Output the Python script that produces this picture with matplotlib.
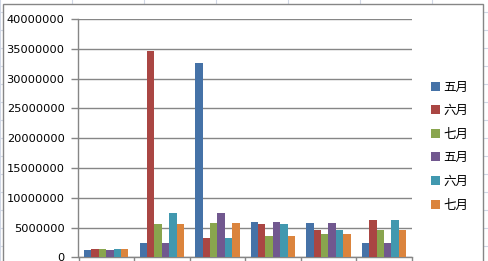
import matplotlib
matplotlib.use("Agg")
import matplotlib.pyplot as plt
import numpy as np
from matplotlib.lines import Line2D
from matplotlib.patches import Rectangle, Patch

plt.rcParams['font.family'] = ['DejaVu Sans']

# values
names = ['五月', '六月', '七月', '五月', '六月', '七月']
s1 = [1230000, 2400000, 32660000, 5940000, 5770000, 2400000]
s2 = [1390000, 34670000, 3250000, 5600000, 4590000, 6270000]
s3 = [1390000, 5600000, 5770000, 3580000, 3920000, 4590000]
s4 = [1230000, 2400000, 7450000, 5940000, 5770000, 2400000]
s5 = [1390000, 7450000, 3250000, 5600000, 4590000, 6270000]
s6 = [1390000, 5600000, 5770000, 3580000, 3920000, 4590000]
series = [s1, s2, s3, s4, s5, s6]
colors = ['#4572A7', '#AA4643', '#89A54E', '#71588F', '#4198AF', '#DB843D']

W, H = 489, 261
fig = plt.figure(figsize=(W / 100, H / 100), dpi=100)

# spreadsheet grid behind the chart
sheet = '#D0D7E5'
for x in np.arange(0, W, 72):
    fig.add_artist(Line2D([x / W, x / W], [0, 1], color=sheet, lw=0.8, zorder=-5))
for y in np.arange(11.5, H, 18):
    fig.add_artist(Line2D([0, 1], [1 - y / H, 1 - y / H], color=sheet, lw=0.8, zorder=-5))

# chart area
fig.add_artist(Rectangle((3 / W, -0.05), 480 / W, 1.05 - 4.3 / H, facecolor='white',
                         edgecolor='#868686', lw=1, zorder=-4))

ax = fig.add_axes([78.5 / W, (H - 257.3) / H, (411.7 - 78.5) / W, (257.3 - 19) / H])
ax.set_facecolor('none')
n = len(series)
x = np.arange(len(s1))
w = 1 / 7.5
for i, s in enumerate(series):
    ax.bar(x + (i - (n - 1) / 2) * w, s, w, color=colors[i], zorder=3)

ax.set_xlim(-0.5, len(s1) - 0.5)
ax.set_ylim(0, 40000000)
ax.set_yticks(np.arange(0, 40000001, 5000000))
ax.yaxis.set_major_formatter(matplotlib.ticker.FuncFormatter(lambda v, p: '%d' % v))
ax.grid(axis='y', color='#868686', lw=1)
ax.set_axisbelow(True)
ax.set_xticks(np.arange(-0.5, len(s1), 1))
ax.set_xticklabels([])
for sp in ['top', 'right']:
    ax.spines[sp].set_visible(False)
for sp in ['left', 'bottom']:
    ax.spines[sp].set_color('#868686')
    ax.spines[sp].set_linewidth(1)
ax.tick_params(axis='y', length=5, color='#868686', width=1, labelsize=8.2, pad=5)
ax.tick_params(axis='x', length=5, color='#868686', width=1)

handles = [Patch(facecolor=c) for c in colors]
leg = fig.legend(handles, names, loc='center left',
                 bbox_to_anchor=(431 / W, (H - 146) / H),
                 frameon=False, prop={'family': 'Noto Sans CJK SC', 'size': 9},
                 handlelength=0.72, handleheight=0.72, handletextpad=0.25,
                 labelspacing=0.85, borderpad=0, borderaxespad=0)

fig.savefig('out.png', dpi=100)
